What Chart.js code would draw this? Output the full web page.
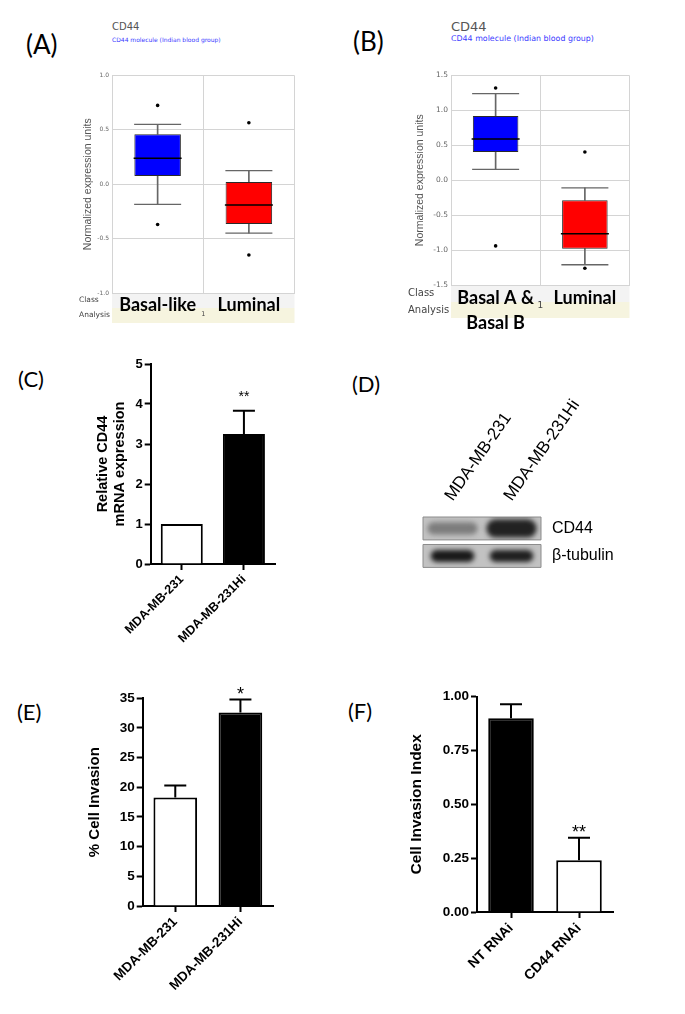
<!DOCTYPE html>
<html lang="en">
<head>
<meta charset="UTF-8">
<title>CD44 expression and invasion</title>
<script src="https://cdn.jsdelivr.net/npm/chart.js"></script>
<style>
  body { margin: 0; background: #fff; width: 685px; height: 1014px; position: relative; overflow: hidden; }
  canvas { position: absolute; }
  .letter { position: absolute; font-family: Lato, 'Open Sans', sans-serif; line-height: 1; color: #000; }
  .gene { position: absolute; font-family: 'DejaVu Sans', Verdana, sans-serif; line-height: 1; color: #555; white-space: nowrap; }
  .gene-sub { position: absolute; font-family: 'DejaVu Sans', Verdana, sans-serif; line-height: 1; color: #3b3bff; white-space: nowrap; }
</style>
</head>
<body>
  <!-- panel letters -->
  <div class="letter" style="left:26px;top:31px;font-size:26px;">(A)</div>
  <div class="letter" style="left:353px;top:28px;font-size:26px;">(B)</div>
  <div class="letter" style="left:18px;top:368px;font-size:22px;">(C)</div>
  <div class="letter" style="left:352px;top:373px;font-size:22px;">(D)</div>
  <div class="letter" style="left:17px;top:701px;font-size:22px;">(E)</div>
  <div class="letter" style="left:348px;top:700px;font-size:22px;">(F)</div>

  <!-- box plot headers -->
  <div class="gene" style="left:112px;top:22px;font-size:10px;">CD44</div>
  <div class="gene-sub" style="left:112px;top:37px;font-size:6px;">CD44 molecule (Indian blood group)</div>
  <div class="gene" style="left:451px;top:20px;font-size:13px;">CD44</div>
  <div class="gene-sub" style="left:451px;top:35px;font-size:7.9px;">CD44 molecule (Indian blood group)</div>

  <canvas id="chartA" width="260" height="290" style="left:60px;top:50px;"></canvas>
  <canvas id="chartB" width="260" height="290" style="left:395px;top:50px;"></canvas>
  <canvas id="chartC" width="200" height="310" style="left:90px;top:345px;"></canvas>
  <canvas id="chartD" width="270" height="193" style="left:400px;top:395px;"></canvas>
  <canvas id="chartE" width="205" height="332" style="left:80px;top:680px;"></canvas>
  <canvas id="chartF" width="225" height="332" style="left:400px;top:680px;"></canvas>

<script>
// ---- (A) Basal-like vs Luminal ----
const classesA = ['Basal-like', 'Luminal'];
const whiskerHighA = [0.55, 0.125];
const q3A = [0.46, 0.02];
const medianA = [0.24, -0.19];
const q1A = [0.075, -0.365];
const whiskerLowA = [-0.185, -0.45];
const outlierHighA = [0.725, 0.565];
const outlierLowA = [-0.37, -0.65];

// ---- (B) Basal A & Basal B vs Luminal ----
const classesB = [['Basal A &', 'Basal B'], 'Luminal'];
const whiskerHighB = [1.24, -0.11];
const q3B = [0.92, -0.285];
const medianB = [0.59, -0.765];
const q1B = [0.405, -0.98];
const whiskerLowB = [0.155, -1.21];
const outlierHighB = [1.32, 0.405];
const outlierLowB = [-0.94, -1.26];

// ---- (C) relative CD44 mRNA ----
const cellLines = ['MDA-MB-231', 'MDA-MB-231Hi'];
const mrnaC = [1.0, 3.25];
const mrnaErrC = [0, 0.58];
const starsC = ['', '**'];

// ---- (D) western blot ----
const blotLanes = ['MDA-MB-231', 'MDA-MB-231Hi'];
const blotRows = ['CD44', 'β-tubulin'];
const cd44Signal = [0.42, 0.92];
const tubulinSignal = [0.97, 0.94];

// ---- (E) % cell invasion ----
const invasionE = [18.3, 32.6];
const invasionErrE = [2.0, 2.2];
const starsE = ['', '*'];

// ---- (F) invasion index after RNAi ----
const rnaiLabels = ['NT RNAi', 'CD44 RNAi'];
const indexF = [0.90, 0.24];
const indexErrF = [0.065, 0.105];
const starsF = ['', '**'];

Chart.defaults.animation = false;
Chart.defaults.plugins.legend.display = false;
Chart.defaults.plugins.tooltip.enabled = false;

const ARIAL = "'Liberation Sans', Arial, sans-serif";

// Class / Analysis strips under the box plots
const classRows = {
  id: 'classRows',
  beforeDraw(chart, args, opts) {
    if (!opts.rows) return;
    const { ctx, chartArea: a } = chart;
    const [h1, h2] = opts.rows;
    ctx.save();
    ctx.fillStyle = '#f3f3f3';
    ctx.fillRect(a.left, a.bottom, a.right - a.left, h1);
    ctx.fillStyle = '#f6f4df';
    ctx.fillRect(a.left, a.bottom + h1, a.right - a.left, h2);
    ctx.fillStyle = '#444';
    ctx.font = opts.fontSize + "px 'DejaVu Sans'";
    ctx.textBaseline = 'middle';
    ctx.textAlign = 'left';
    ctx.fillText('Class', a.left - opts.inset, a.bottom + h1 / 2);
    ctx.fillText('Analysis', a.left - opts.inset, a.bottom + h1 + h2 / 2);
    ctx.textAlign = 'center';
    ctx.font = (opts.fontSize - 1) + "px 'DejaVu Sans'";
    ctx.fillText('1', (a.left + a.right) / 2, a.bottom + h1 + opts.oneY);
    ctx.restore();
  }
};

// error bars (mean + SEM) and significance stars
const errorBars = {
  id: 'errorBars',
  afterDatasetsDraw(chart, args, opts) {
    if (!opts.errors) return;
    const { ctx } = chart;
    const y = chart.scales.y;
    const values = chart.data.datasets[0].data;
    const bars = chart.getDatasetMeta(0).data;
    ctx.save();
    ctx.strokeStyle = '#000';
    ctx.lineWidth = 2;
    bars.forEach((bar, i) => {
      const err = opts.errors[i];
      const topVal = values[i] + err;
      if (err > 0) {
        const base = y.getPixelForValue(values[i]);
        const top = y.getPixelForValue(topVal);
        ctx.beginPath();
        ctx.moveTo(bar.x, base);
        ctx.lineTo(bar.x, top);
        ctx.moveTo(bar.x - 11, top);
        ctx.lineTo(bar.x + 11, top);
        ctx.stroke();
      }
      if (opts.stars[i]) {
        ctx.fillStyle = '#000';
        ctx.font = opts.starSize + 'px ' + ARIAL;
        ctx.textAlign = 'center';
        ctx.textBaseline = 'alphabetic';
        ctx.fillText(opts.stars[i], bar.x, y.getPixelForValue(topVal) - opts.starGap);
      }
    });
    ctx.restore();
  }
};

function boxPlot(id, labels, s, yMin, yMax, g) {
  const stem = { type: 'bar', backgroundColor: '#666', barThickness: 1, grouped: false, order: 3 };
  const cap = { type: 'line', showLine: false, pointStyle: 'line', pointRadius: 23.5, pointBorderColor: '#666', pointBorderWidth: 1.3, order: 1 };
  const dot = { type: 'line', showLine: false, pointStyle: 'circle', pointRadius: 1.8, pointBackgroundColor: '#000', pointBorderWidth: 0, order: 0 };
  return new Chart(document.getElementById(id), {
    data: {
      labels,
      datasets: [
        { ...stem, data: s.lo.map((v, i) => [v, s.q1[i]]) },
        { ...stem, data: s.q3.map((v, i) => [v, s.hi[i]]) },
        { type: 'bar', data: s.q1.map((v, i) => [v, s.q3[i]]), backgroundColor: ['#0000ff', '#ff0000'],
          borderColor: '#2a2a2a', borderWidth: 1, borderSkipped: false, barPercentage: 0.51, categoryPercentage: 1, grouped: false, order: 2 },
        { ...cap, data: s.hi },
        { ...cap, data: s.lo },
        { ...cap, data: s.med, pointRadius: 24, pointBorderColor: '#000', pointBorderWidth: 1.5, order: 0 },
        { ...dot, data: s.outHi },
        { ...dot, data: s.outLo }
      ]
    },
    options: {
      responsive: false,
      layout: { padding: { top: g.padTop, right: g.padRight } },
      scales: {
        x: {
          grid: { offset: true, color: '#d4d4d4', drawTicks: false },
          border: { color: '#d4d4d4' },
          ticks: { autoSkip: false, maxRotation: 0, color: '#000', padding: g.labelPad,
                   font: { family: 'Lato', weight: 'bold', size: 18, lineHeight: 1.39 } },
          afterFit: sc => { sc.height = g.xHeight; }
        },
        y: {
          min: yMin, max: yMax,
          grid: { color: '#d4d4d4', drawTicks: false },
          border: { color: '#d4d4d4' },
          ticks: { stepSize: 0.5, padding: 3, color: '#666', callback: v => v.toFixed(1),
                   font: { family: 'DejaVu Sans', size: g.tickSize } },
          title: { display: true, text: 'Normalized expression units', color: '#555',
                   font: { family: ARIAL, size: 10.5, lineHeight: 1.2 }, padding: { top: g.titleTop, bottom: 0 } },
          afterFit: sc => { sc.width = g.yWidth; }
        }
      },
      plugins: { classRows: g.rows }
    },
    plugins: [classRows]
  });
}

boxPlot('chartA', classesA,
  { hi: whiskerHighA, q3: q3A, med: medianA, q1: q1A, lo: whiskerLowA, outHi: outlierHighA, outLo: outlierLowA },
  -1, 1,
  { padTop: 17, padRight: 16, xHeight: 47, yWidth: 52, titleTop: 21.7, tickSize: 6, labelPad: 0,
    rows: { rows: [15, 15], fontSize: 7.5, inset: 33, oneY: 6 } });

boxPlot('chartB', classesB,
  { hi: whiskerHighB, q3: q3B, med: medianB, q1: q1B, lo: whiskerLowB, outHi: outlierHighB, outLo: outlierLowB },
  -1.5, 1.5,
  { padTop: 15, padRight: 15, xHeight: 55, yWidth: 56, titleTop: 18.7, tickSize: 7.5, labelPad: 0.5,
    rows: { rows: [17, 16], fontSize: 10, inset: 43, oneY: 4 } });

function barChart(id, labels, values, colors, errors, stars, g) {
  return new Chart(document.getElementById(id), {
    type: 'bar',
    data: {
      labels,
      datasets: [{ data: values, backgroundColor: colors, borderColor: '#000', borderWidth: 2,
                   barPercentage: g.barPct, categoryPercentage: 1 }]
    },
    options: {
      responsive: false,
      layout: { padding: { top: g.padTop, right: g.padRight } },
      scales: {
        x: {
          grid: { offset: false, drawOnChartArea: false, tickLength: 6, tickWidth: 2, tickColor: '#000' },
          border: { color: '#000', width: 2 },
          ticks: { autoSkip: false, minRotation: g.rot, maxRotation: g.rot, padding: 2, color: '#000',
                   font: { family: ARIAL, weight: 'bold', size: g.xFont } },
          afterFit: sc => { sc.height = g.xHeight; }
        },
        y: {
          min: 0, max: g.yMax,
          grid: { drawOnChartArea: false, tickLength: 6, tickWidth: 2, tickColor: '#000' },
          border: { color: '#000', width: 2 },
          ticks: { stepSize: g.step, padding: 2, color: '#000', callback: g.fmt,
                   font: { family: ARIAL, weight: 'bold', size: g.yFont } },
          title: { display: true, text: g.title, color: '#000',
                   font: { family: ARIAL, weight: 'bold', size: g.titleSize, lineHeight: g.titleLh },
                   padding: { top: g.titleTop, bottom: 0 } },
          afterFit: sc => { sc.width = g.yWidth; }
        }
      },
      plugins: { errorBars: { errors, stars, starSize: g.starSize, starGap: g.starGap } }
    },
    plugins: [errorBars]
  });
}

barChart('chartC', cellLines, mrnaC, ['#fff', '#000'], mrnaErrC, starsC,
  { barPct: 0.676, padTop: 19, padRight: 15, xHeight: 91, yWidth: 60.7, yMax: 5, step: 1,
    fmt: v => v, rot: 45, xFont: 12.5, yFont: 13, title: ['Relative CD44', 'mRNA expression'],
    titleSize: 14.5, titleLh: 17 / 14.5, titleTop: 4.5, starSize: 14, starGap: 10 });

barChart('chartE', cellLines, invasionE, ['#fff', '#000'], invasionErrE, starsE,
  { barPct: 0.67, padTop: 18.3, padRight: 12, xHeight: 106, yWidth: 62.7, yMax: 35, step: 5,
    fmt: v => v, rot: 45, xFont: 13.5, yFont: 13.5, title: '% Cell Invasion',
    titleSize: 15, titleLh: 1.2, titleTop: 6, starSize: 18, starGap: -1 });

barChart('chartF', rnaiLabels, indexF, ['#000', '#fff'], indexErrF, starsF,
  { barPct: 0.67, padTop: 16.7, padRight: 12, xHeight: 100, yWidth: 77, yMax: 1, step: 0.25,
    fmt: v => v.toFixed(2), rot: 45, xFont: 14, yFont: 13.5, title: 'Cell Invasion Index',
    titleSize: 15.5, titleLh: 1.2, titleTop: 7.7, starSize: 18, starGap: 0 });

// ---- western blot: gray membrane strips, blurred bands ----
const shade = s => { const g = Math.round(200 - 180 * s); return `rgb(${g},${g},${g})`; };
const rowCenter = [8.5, 2.5];          // CD44 strip 6..11, tubulin strip 0..5 (y units)
const blotStrips = {
  id: 'blotStrips',
  beforeDatasetsDraw(chart) {
    const { ctx, chartArea: a, scales: { y } } = chart;
    ctx.save();
    ctx.beginPath();
    [[6, 11], [0, 5]].forEach(([lo, hi]) => {
      ctx.rect(a.left, y.getPixelForValue(hi), a.right - a.left, y.getPixelForValue(lo) - y.getPixelForValue(hi));
    });
    ctx.fillStyle = '#c2c2c2';
    ctx.fill();
    ctx.strokeStyle = '#8c8c8c';
    ctx.lineWidth = 1;
    ctx.stroke();
    ctx.clip();
    ctx.filter = 'blur(2.5px)';
  },
  afterDatasetsDraw(chart) {
    chart.ctx.restore();
  }
};

new Chart(document.getElementById('chartD'), {
  type: 'bar',
  data: {
    labels: blotLanes,
    datasets: [
      { data: cd44Signal.map(s => [rowCenter[0] - (0.8 + 1.3 * s), rowCenter[0] + (0.8 + 1.3 * s)]),
        backgroundColor: cd44Signal.map(shade), barPercentage: 0.85, categoryPercentage: 1,
        borderRadius: 9, borderSkipped: false, grouped: false },
      { data: tubulinSignal.map(() => [rowCenter[1] - 1.3, rowCenter[1] + 1.3]),
        backgroundColor: tubulinSignal.map(shade), barPercentage: 0.74, categoryPercentage: 1,
        borderRadius: 8, borderSkipped: false, grouped: false }
    ]
  },
  options: {
    responsive: false,
    layout: { padding: { left: 23, bottom: 5 } },
    scales: {
      x: {
        position: 'top',
        grid: { display: false, drawTicks: false },
        border: { display: false },
        ticks: { autoSkip: false, minRotation: 55, maxRotation: 55, padding: 12, labelOffset: 13, color: '#000',
                 font: { family: ARIAL, size: 17 } },
        afterFit: sc => { sc.height = 122; }
      },
      y: {
        position: 'right', min: 0, max: 11,
        grid: { display: false, drawTicks: false },
        border: { display: false },
        afterBuildTicks: sc => { sc.ticks = rowCenter.map(v => ({ value: v })); },
        ticks: { callback: (v, i) => blotRows[i], padding: 11, color: '#000',
                 font: { family: ARIAL, size: 16 } },
        afterFit: sc => { sc.width = 129; }
      }
    }
  },
  plugins: [blotStrips]
});
</script>
</body>
</html>
